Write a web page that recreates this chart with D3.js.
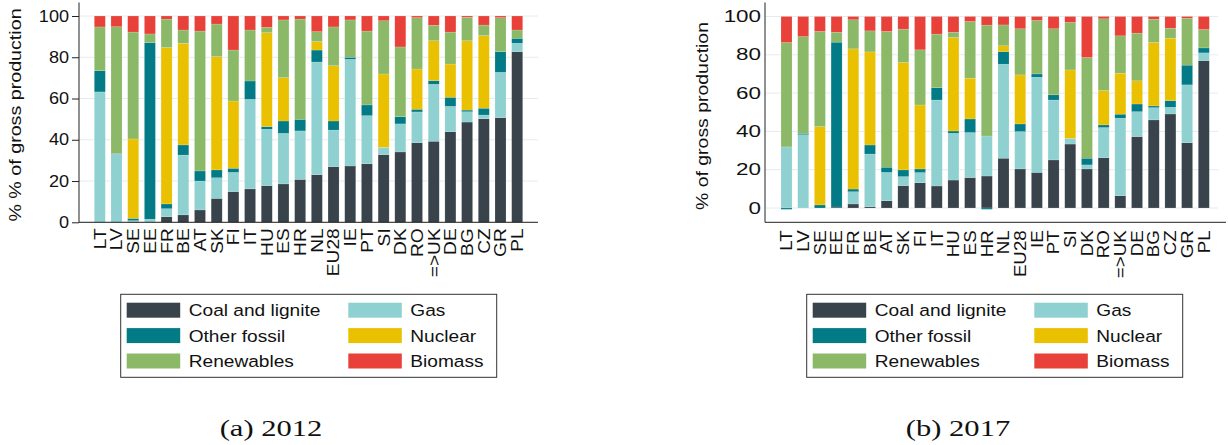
<!DOCTYPE html>
<meta charset="utf-8">
<style>
  body { margin: 0; background: #fff; }
  svg { display: block; font-family: "Liberation Sans", Arial, sans-serif; }
  .grid line { stroke: #e4ecee; stroke-width: 1; }
  .axisline { stroke: #222; stroke-width: 1; }
  .tick line { stroke: #222; }
</style>
<body>
<div id="chart"></div>
<script src="https://cdn.jsdelivr.net/npm/d3@7"></script>
<script>

var countries = ["LT","LV","SE","EE","FR","BE","AT","SK","FI","IT","HU","ES","HR","NL","EU28","IE","PT","SI","DK","RO","=>UK","DE","BG","CZ","GR","PL"];
var sources = ["Coal and lignite","Gas","Other fossil","Nuclear","Renewables","Biomass"];
var colors = ["#39434b","#8fd0d1","#037b86","#eac100","#8bb968","#e8413a"];
var yTicks = [0,20,40,60,80,100];

// 2012 shares, % of gross production
var coal2012    = [0,0,0.3,0,2.7,3.6,6.0,11.6,14.9,16.2,17.8,18.6,20.8,23.1,27.0,27.3,28.4,32.8,34.1,38.6,39.3,43.9,48.6,50.2,50.7,82.7];
var gas2012     = [63.2,33.0,0.5,1.5,3.9,29.0,14.0,10.0,9.3,43.4,27.3,24.5,23.5,54.6,17.7,51.7,23.3,3.5,13.6,14.9,27.6,12.3,5.0,1.8,22.0,4.1];
var other2012   = [10.3,0.3,1.1,85.6,2.3,4.9,4.9,3.8,2.0,8.9,1.3,6.0,5.6,5.8,4.4,1.0,5.2,0,3.5,1.3,1.8,4.4,0.8,3.3,10.0,2.4];
var nuclear2012 = [0,0,38.5,0,75.8,49.3,0,54.9,32.6,0,45.5,21.0,0,4.1,26.8,0,0,35.6,0,19.5,19.3,16.1,33.6,35.2,0,0];
var renew2012   = [21.2,61.5,51.8,4.2,13.8,6.4,67.8,15.8,24.7,24.7,2.6,28.0,48.6,4.8,18.8,18.1,35.8,25.8,33.8,24.9,7.5,15.5,11.4,5.1,16.5,4.0];
var bio2012     = [5.3,5.2,7.8,8.7,1.5,6.8,7.3,3.9,16.5,6.8,5.5,1.9,1.5,7.6,5.3,1.9,7.3,2.3,15.0,0.8,4.5,7.8,0.6,4.4,0.8,6.8];

// 2017 shares, % of gross production
var coal2017    = [0,0,0,0.5,2.1,0.7,3.8,11.7,13.2,11.5,14.6,15.9,16.7,26.0,20.4,18.6,25.1,33.4,20.4,26.3,6.4,37.3,46.0,49.1,34.1,77.0];
var gas2017     = [31.9,38.3,0,0,6.4,27.5,14.8,4.7,5.3,44.9,24.4,23.5,20.9,49.1,19.5,49.7,31.3,3.0,2.1,15.7,40.5,13.0,6.4,3.5,30.2,4.0];
var other2017   = [-0.7,0.7,1.6,86.1,1.4,4.7,2.7,3.5,1.9,6.5,1.2,7.1,-0.7,6.6,4.0,1.7,2.7,0,3.5,1.4,2.1,4.0,0.9,3.5,10.3,2.6];
var nuclear2017 = [0,0,40.9,0,73.2,48.6,0,56.1,33.4,0,48.8,21.3,0,3.0,25.6,0,0,35.7,0,17.9,21.4,12.1,33.1,32.6,0,0];
var renew2017   = [54.5,50.5,49.7,5.2,15.2,11.0,70.9,17.4,28.8,27.9,2.8,29.6,57.9,10.9,24.1,27.9,34.5,24.8,52.6,37.5,19.5,24.9,12.2,5.2,24.5,9.6];
var bio2017     = [13.6,10.5,7.8,8.2,1.7,7.5,7.8,6.6,17.4,9.2,8.2,2.6,4.5,4.4,6.4,2.1,6.4,3.1,21.4,1.2,10.1,8.7,1.4,6.1,0.9,6.8];

var svg = d3.select("#chart").append("svg")
    .attr("width", 1228)
    .attr("height", 445);

function rows(series) {
  return countries.map(function(c, i) {
    var r = {country: c};
    sources.forEach(function(s, k) { r[s] = series[k][i]; });
    return r;
  });
}

function drawChart(o) {
  var g = svg.append("g");

  var x = d3.scaleBand()
      .domain(countries)
      .range([o.barLeft, o.barRight])
      .paddingInner(0.34)
      .paddingOuter(0);

  var y = d3.scaleLinear()
      .domain([0, 100])
      .range([o.y0, o.y100]);

  // gridlines
  g.append("g").attr("class", "grid")
    .selectAll("line")
    .data(yTicks)
    .enter().append("line")
      .attr("x1", o.axisX)
      .attr("x2", o.gridRight)
      .attr("y1", function(d) { return y(d); })
      .attr("y2", function(d) { return y(d); });

  var stack = d3.stack()
      .keys(sources)
      .offset(d3.stackOffsetDiverging);

  var layers = stack(rows(o.series));

  g.selectAll("g.layer")
      .data(layers)
    .enter().append("g")
      .attr("class", "layer")
      .attr("fill", function(d, i) { return colors[i]; })
    .selectAll("rect")
      .data(function(d) { return d; })
    .enter().append("rect")
      .attr("x", function(d) { return x(d.data.country); })
      .attr("width", x.bandwidth())
      .attr("y", function(d) { return y(Math.max(d[0], d[1])); })
      .attr("height", function(d) { return Math.abs(y(d[0]) - y(d[1])); })
      .attr("stroke", "#fff")
      .attr("stroke-opacity", 0.3)
      .attr("stroke-width", 0.5);

  // y axis
  var ya = g.append("g")
      .attr("transform", "translate(" + o.axisX + ",0)")
      .call(d3.axisLeft(y).tickValues(yTicks).tickSize(o.tick).tickPadding(o.tickPad));
  ya.select(".domain").remove();
  ya.selectAll(".tick text")
      .attr("x", -(o.tick + o.tickPad) / o.tickStretch)
      .attr("transform", "scale(" + o.tickStretch + ",1)")
      .style("font-size", "16px")
      .style("font-family", "Liberation Sans, Arial, sans-serif")
      .attr("fill", "#111");

  g.append("line").attr("class", "axisline")
      .attr("x1", o.axisX).attr("x2", o.axisX)
      .attr("y1", o.axisTop).attr("y2", o.axisBottom);
  g.append("line").attr("class", "axisline")
      .attr("x1", o.axisX).attr("x2", o.axisRight)
      .attr("y1", o.axisBottom).attr("y2", o.axisBottom);

  // x axis labels
  var xa = g.append("g")
      .attr("transform", "translate(0," + o.axisBottom + ")")
      .call(d3.axisBottom(x).tickSize(0));
  xa.select(".domain").remove();
  xa.selectAll(".tick text")
      .attr("x", 0)
      .attr("y", 0)
      .attr("dy", "0.36em")
      .attr("text-anchor", "end")
      .attr("transform", "translate(0," + o.labelPad + ") rotate(-90) scale(" + o.labelStretch + ",1)")
      .style("font-size", o.labelSize + "px")
      .style("font-family", "Liberation Sans, Arial, sans-serif")
      .attr("fill", "#111");

  // y title
  g.append("text")
      .attr("transform", "translate(" + o.titleX + "," + o.titleY + ") rotate(-90) scale(" + o.titleStretch + ",1)")
      .attr("text-anchor", "middle")
      .attr("dy", "0.36em")
      .style("font-size", "16px")
      .attr("fill", "#111")
      .text(o.title);

  // legend
  var lg = g.append("g").attr("transform", "translate(" + o.legendX + "," + o.legendY + ")");
  lg.append("rect")
      .attr("width", 376)
      .attr("height", 83)
      .attr("fill", "none")
      .attr("stroke", "#333")
      .attr("stroke-width", 1);
  var items = lg.selectAll("g.item")
      .data(sources)
    .enter().append("g")
      .attr("class", "item")
      .attr("transform", function(d, i) {
        return "translate(" + (i % 2 ? 227.6 : 6) + "," + (8.4 + Math.floor(i / 2) * 25.4) + ")";
      });
  items.append("rect")
      .attr("width", 53.5)
      .attr("height", 15)
      .attr("fill", function(d, i) { return colors[i]; });
  items.append("text")
      .attr("transform", "translate(62,13.8) scale(1.125,1)")
      .style("font-size", "17px")
      .attr("fill", "#111")
      .text(function(d) { return d; });

  // caption
  svg.append("text")
      .attr("transform", "translate(" + o.captionX + ",435.5) scale(1.33,1)")
      .attr("text-anchor", "middle")
      .style("font-family", "Liberation Serif, Times New Roman, serif")
      .style("font-size", "23px")
      .attr("fill", "#111")
      .text(o.caption);
}

drawChart({
  series: [coal2012, gas2012, other2012, nuclear2012, renew2012, bio2012],
  barLeft: 94.3, barRight: 522.7,
  y0: 222.3, y100: 16,
  axisX: 79, axisTop: 2.5, axisBottom: 222.3, axisRight: 538, gridRight: 538,
  tick: 7, tickPad: 3, tickStretch: 1.13,
  labelPad: 6, labelSize: 16.5, labelStretch: 1.16,
  title: "% % of gross production", titleX: 15.5, titleY: 115, titleStretch: 1.23,
  legendX: 120.7, legendY: 294.3,
  caption: "(a) 2012", captionX: 271
});

drawChart({
  series: [coal2017, gas2017, other2017, nuclear2017, renew2017, bio2017],
  barLeft: 781, barRight: 1209.3,
  y0: 208, y100: 16.5,
  axisX: 765, axisTop: 2.5, axisBottom: 222.3, axisRight: 1226, gridRight: 1218,
  tick: 0, tickPad: 4, tickStretch: 1.4,
  labelPad: 8, labelSize: 16, labelStretch: 1.17,
  title: "% of gross production", titleX: 702, titleY: 116, titleStretch: 1.215,
  legendX: 806.7, legendY: 294.3,
  caption: "(b) 2017", captionX: 958
});

</script>
</body>
